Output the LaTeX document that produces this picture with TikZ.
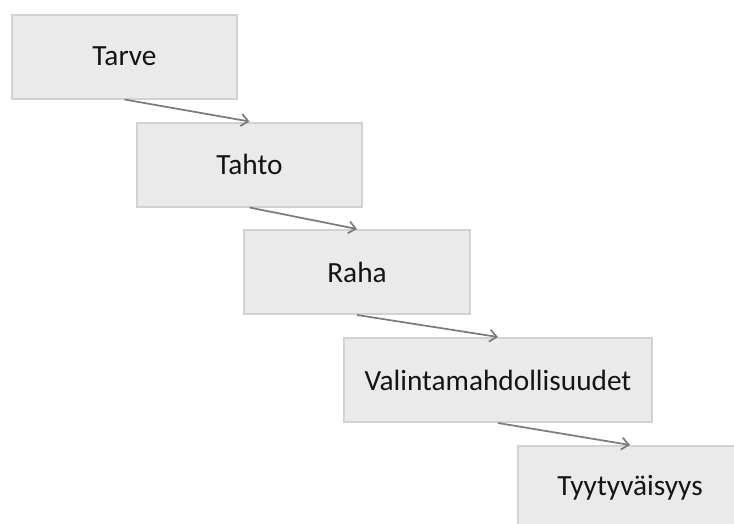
\documentclass[tikz,border=0pt]{standalone}
\usepackage{fontspec}
\setmainfont{Carlito}
\usetikzlibrary{arrows.meta}
\definecolor{boxfill}{HTML}{EAEAEA}
\definecolor{boxline}{HTML}{D2D2D2}
\definecolor{arrowgray}{HTML}{7A7A7A}
\definecolor{textdark}{HTML}{141414}
\begin{document}
\begin{tikzpicture}[x=1pt,y=-1pt,
  stagebox/.style={draw=boxline, line width=2pt, fill=boxfill,
    minimum height=84pt, inner sep=0pt, text=textdark,
    font=\fontsize{29.3}{35}\selectfont},
  flow/.style={draw=arrowgray, line width=1.7pt,
    -{Straight Barb[length=7pt,width=12pt,line width=1.7pt]}}]
\useasboundingbox (0,0) rectangle (734,523);
\node[stagebox, minimum width=225pt] (tarve) at (124.5,56.5) {Tarve};
\node[stagebox, minimum width=225pt] (tahto) at (249.5,164.5) {Tahto};
\node[stagebox, minimum width=226pt] (raha) at (357,272) {Raha};
\node[stagebox, minimum width=308pt] (valinta) at (498,380) {Valintamahdollisuudet};
\node[stagebox, minimum width=224pt] (tyyty) at (630,488) {Tyytyväisyys};
\draw[flow] (tarve.south) -- (tahto.north);
\draw[flow] (tahto.south) -- (raha.north);
\draw[flow] (raha.south) -- (valinta.north);
\draw[flow] (valinta.south) -- (tyyty.north);
\end{tikzpicture}
\end{document}
